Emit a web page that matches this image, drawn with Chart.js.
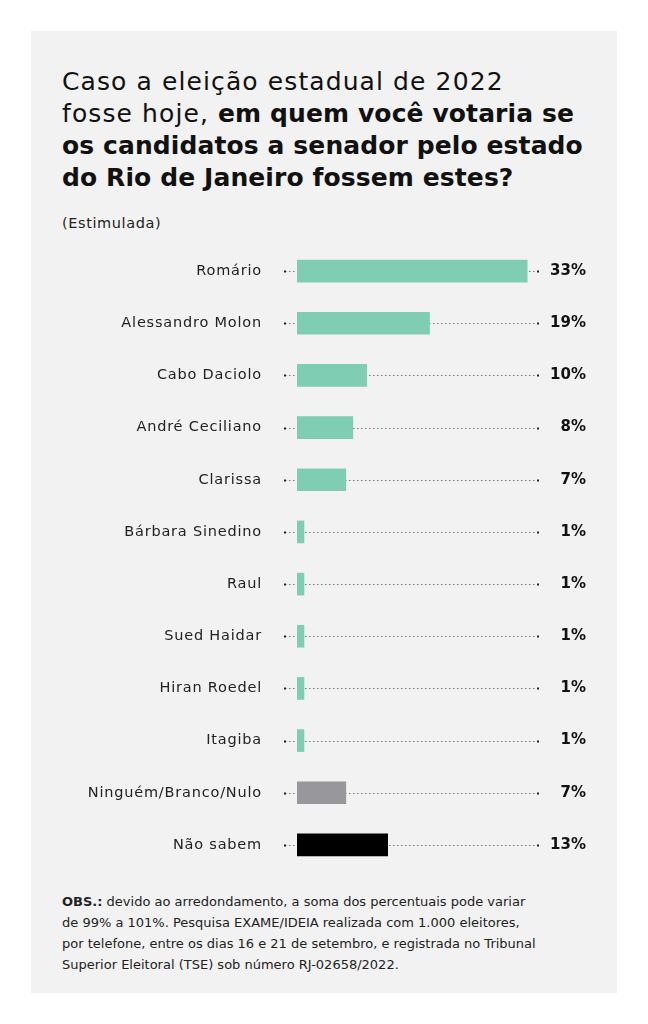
<!DOCTYPE html>
<html><head><meta charset="utf-8">
<script src="https://cdn.jsdelivr.net/npm/chart.js@4"></script>
<style>
body{margin:0;background:#fff;font-family:"DejaVu Sans",sans-serif;}
#panel{position:absolute;left:31px;top:31px;width:586px;height:962px;background:#f2f2f2;}
#title{position:absolute;left:62px;top:66px;width:560px;font-size:25px;line-height:32px;color:#111;white-space:nowrap;letter-spacing:1.1px}
#title b{font-weight:700;letter-spacing:0.1px}
#sub{position:absolute;left:62px;top:215px;font-size:14.5px;color:#222;letter-spacing:0.6px}
#note{position:absolute;left:62px;top:891px;width:560px;font-size:13px;line-height:21px;color:#222;white-space:nowrap}
#wrap{position:absolute;left:30px;top:245px;width:588px;height:626px}
</style></head><body>
<div id="panel"></div>
<div id="title">Caso a eleição estadual de 2022<br>fosse hoje, <b>em quem você votaria se<br>os candidatos a senador pelo estado<br>do Rio de Janeiro fossem estes?</b></div>
<div id="sub">(Estimulada)</div>
<div id="wrap"><canvas id="c"></canvas></div>
<div id="note"><b>OBS.:</b> devido ao arredondamento, a soma dos percentuais pode variar<br>de 99% a 101%. Pesquisa EXAME/IDEIA realizada com 1.000 eleitores,<br>por telefone, entre os dias 16 e 21 de setembro, e registrada no Tribunal<br>Superior Eleitoral (TSE) sob número RJ-02658/2022.</div>
<script>
const categories=["Romário","Alessandro Molon","Cabo Daciolo","André Ceciliano","Clarissa","Bárbara Sinedino","Raul","Sued Haidar","Hiran Roedel","Itagiba","Ninguém/Branco/Nulo","Não sabem"];
const values=[33,19,10,8,7,1,1,1,1,1,7,13];
const colors=values.map((v,i)=>i===10?"#98989c":i===11?"#000000":"#7fcdb3");
const deco={id:"deco",
 beforeDatasetsDraw(ch){const c=ch.ctx,y=ch.scales.y;c.save();
  c.setLineDash([1.5,2.5]);c.strokeStyle="#777";c.lineWidth=1;
  categories.forEach((l,i)=>{const py=Math.round(y.getPixelForValue(i))+0.5;c.beginPath();c.moveTo(255,py);c.lineTo(508,py);c.stroke();
   c.fillStyle="#222";c.fillRect(254,py-1,2,2);c.fillRect(507,py-1,2,2);});
  c.restore();},
 afterDatasetsDraw(ch){const c=ch.ctx,y=ch.scales.y;c.save();c.textBaseline="middle";c.textAlign="right";
  categories.forEach((l,i)=>{const py=y.getPixelForValue(i);
   c.letterSpacing="0.8px";
   c.font="14.5px 'DejaVu Sans', sans-serif";c.fillStyle="#222";c.fillText(l,232,py);
   c.letterSpacing="0px";
   c.font="bold 15px 'DejaVu Sans', sans-serif";c.fillStyle="#111";c.fillText(values[i]+"%",556,py);});
  c.restore();}};
new Chart(document.getElementById("c"),{type:"bar",
 data:{labels:categories,datasets:[{data:values,backgroundColor:colors,barThickness:22}]},
 options:{indexAxis:"y",responsive:true,maintainAspectRatio:false,animation:false,
  layout:{padding:{left:267,right:42,top:0,bottom:0}},
  plugins:{legend:{display:false},tooltip:{enabled:false}},
  scales:{x:{display:false,min:0,max:40},y:{display:false}}},
 plugins:[deco]});
</script></body></html>
